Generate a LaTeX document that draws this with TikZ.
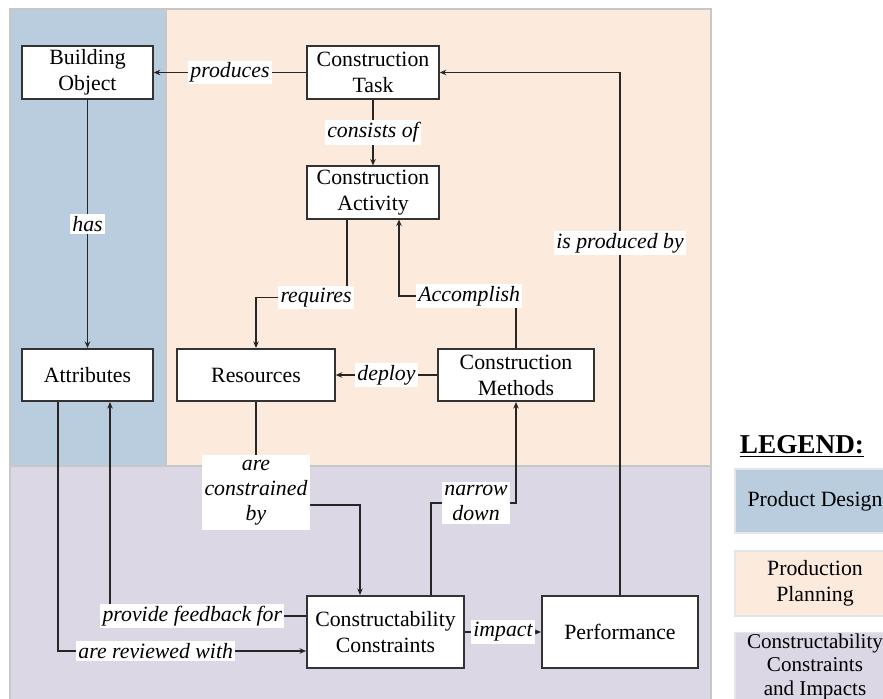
\documentclass[tikz,border=0pt]{standalone}
\usepackage{fontspec}
\setmainfont{Liberation Serif}
\usepackage{tikz}
\usetikzlibrary{arrows.meta,positioning}
\definecolor{pdblue}{RGB}{185,205,222}
\definecolor{pppeach}{RGB}{252,234,220}
\definecolor{cilav}{RGB}{220,215,229}
\tikzset{
  ent/.style={rectangle, draw=black!80, line width=0.9pt, fill=white, align=center,
    inner sep=1pt, minimum height=1.05cm},
  bigent/.style={ent, line width=1.1pt, minimum height=1.44cm},
  lbl/.style={fill=white, font=\fontsize{12.4}{14.2}\selectfont\itshape, inner sep=1.2pt, align=center},
  flow/.style={-{Stealth[length=1.3mm, width=1.1mm]}, line width=0.65pt, draw=black!85},
  legbox/.style={rectangle, draw=black!10, line width=0.6pt, align=center, inner sep=1pt},
  zone/.style={draw=black!22, line width=0.6pt},
}
\begin{document}
\begin{tikzpicture}[x=0.02cm, y=-0.02cm, font=\fontsize{12.4}{14.7}\selectfont]
  \path[use as bounding box, clip] (0,0) rectangle (883,699);
  \fill[white] (0,0) rectangle (883,699);
  \filldraw[zone, fill=pdblue] (10,9) rectangle (166,466);
  \filldraw[zone, fill=pppeach] (166,9) rectangle (711,466);
  \filldraw[zone, fill=cilav] (10,466) rectangle (711,710);

  \node[ent, minimum width=2.62cm] (bo) at (87.5,72.5) {Building\\ Object};
  \node[ent, minimum width=2.64cm] (ct) at (373,72.5) {Construction\\ Task};
  \node[ent, minimum width=2.64cm] (ca) at (373,192.5) {Construction\\ Activity};
  \node[ent, minimum width=2.62cm] (at) at (87.5,375) {Attributes};
  \node[ent, minimum width=3.16cm] (res) at (256,375) {Resources};
  \node[ent, minimum width=3.12cm] (cm) at (516,375) {Construction\\ Methods};
  \node[bigent, minimum width=3.14cm] (cc) at (385.5,632) {Constructability\\ Constraints};
  \node[bigent, minimum width=3.12cm] (perf) at (620,632) {Performance};

  \draw[flow] (ct) -- node[lbl]{produces} (bo);
  \draw[flow] (ct) -- node[lbl]{consists of} (ca);
  \draw[flow] (bo) -- node[lbl]{has} (at);
  \draw[flow] ([xshift=-0.52cm]ca.south) -- ++(0,78) -| node[lbl, pos=0.17]{requires} (res.north);
  \draw[flow] (cm.north) -- ++(0,-52) -| node[lbl, pos=0.2]{Accomplish} ([xshift=0.52cm]ca.south);
  \draw[flow] (cm) -- node[lbl]{deploy} (res);
  \draw[flow] (perf.north) |- node[lbl, pos=0.337]{is produced by} (ct.east);
  \draw[flow] (res.south) -- node[lbl, pos=0.88, inner ysep=3pt]{are\\ constrained\\ by} ++(0,103)
    -| ([xshift=-0.51cm]cc.north);
  \draw[flow] ([xshift=0.91cm]cc.north) -- ++(0,-92) -| node[lbl, pos=0.265, inner ysep=2pt]{narrow\\ down} (cm.south);
  \draw[flow] ([yshift=0.32cm]cc.west) -| node[lbl, pos=0.29]{provide feedback for} ([xshift=0.45cm]at.south);
  \draw[flow] ([xshift=-0.59cm]at.south) |- node[lbl, pos=0.697]{are reviewed with} ([yshift=-0.38cm]cc.west);
  \draw[flow] (cc) -- node[lbl]{impact} (perf);

  \node[font=\bfseries\fontsize{15.5}{18}\selectfont] (leg) at (802,446) {\underline{LEGEND:}};
  \node[legbox, fill=pdblue, minimum width=3.2cm, minimum height=1.28cm] (lpd) at (815,501) {Product Design};
  \node[legbox, fill=pppeach, minimum width=3.2cm, minimum height=1.3cm] (lpp) at (815,583.5) {Production\\ Planning};
  \node[legbox, fill=cilav, minimum width=3.2cm, anchor=north, inner ysep=0.5pt,
    font=\fontsize{12}{13.4}\selectfont] (lci) at (815,632) {Constructability\\ Constraints\\ and Impacts};
\end{tikzpicture}
\end{document}
